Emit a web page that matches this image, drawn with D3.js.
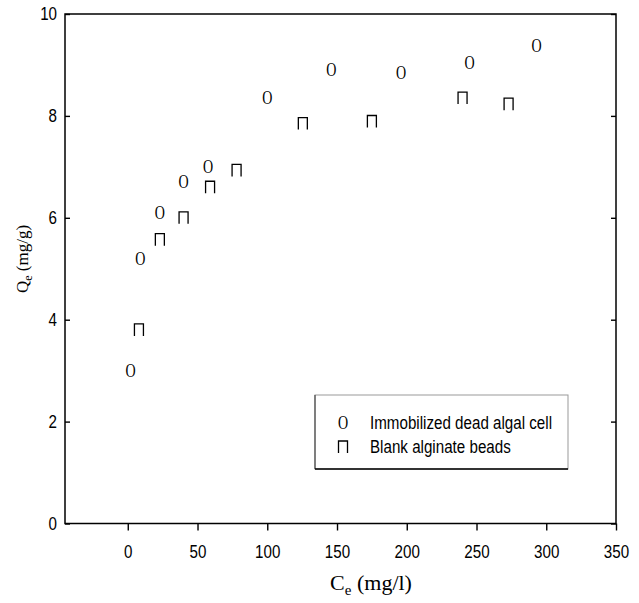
<!DOCTYPE html>
<html>
<head>
<meta charset="utf-8">
<script src="https://cdn.jsdelivr.net/npm/d3@7"></script>
<style>
  body { margin: 0; background: #fff; }
  .tick text { font-family: Arial, "Liberation Sans", sans-serif; font-size: 18.5px; fill: #000; }
</style>
</head>
<body>
<div id="chart"></div>
<script>
// immobilized dead algal cell
const cellCe = [2, 9, 23, 40, 57.5, 100, 146, 196, 245, 293];
const cellQe = [3.0, 5.2, 6.1, 6.7, 7.0, 8.35, 8.9, 8.84, 9.05, 9.38];
// blank alginate beads
const beadCe = [8, 23, 40, 59, 78, 125.5, 175, 240, 273];
const beadQe = [3.8, 5.57, 6.0, 6.6, 6.93, 7.85, 7.89, 8.35, 8.23];

const xTicks = [0, 50, 100, 150, 200, 250, 300, 350];
const yTicks = [0, 2, 4, 6, 8, 10];
const seriesNames = ["Immobilized dead algal cell", "Blank alginate beads"];

const W = 639, H = 603;
const margin = { top: 14, right: 23, bottom: 79.5, left: 65 };
const width = W - margin.left - margin.right;
const height = H - margin.top - margin.bottom;
const narrow = 0.82; // squeeze Arial to look like the narrow face

const svg = d3.select("#chart").append("svg")
  .attr("width", W)
  .attr("height", H);

const g = svg.append("g")
  .attr("transform", `translate(${margin.left},${margin.top})`);

const x = d3.scaleLinear().domain([-45, 350]).range([0, width]);
const y = d3.scaleLinear().domain([0, 10]).range([height, 0]);

// bottom axis, ticks pointing out
g.append("g")
  .attr("transform", `translate(0,${height})`)
  .call(d3.axisBottom(x).tickValues(xTicks).tickSizeInner(7).tickSizeOuter(0).tickPadding(14))
  .call(a => a.select(".domain").remove())
  .call(a => a.selectAll("line").attr("stroke", "#000").attr("stroke-width", 1.4))
  .call(a => a.selectAll("text").attr("transform", `scale(${narrow},1)`));

// left axis, ticks pointing in
g.append("g")
  .call(d3.axisLeft(y).tickValues(yTicks).tickSizeInner(-5).tickSizeOuter(0).tickPadding(8))
  .call(a => a.select(".domain").remove())
  .call(a => a.selectAll("line").attr("stroke", "#000").attr("stroke-width", 1.4))
  .call(a => a.selectAll("text").attr("x", -8 / narrow).attr("transform", `scale(${narrow},1)`));

// right axis, ticks only
g.append("g")
  .attr("transform", `translate(${width},0)`)
  .call(d3.axisLeft(y).tickValues(yTicks).tickSizeInner(5).tickSizeOuter(0).tickFormat(""))
  .call(a => a.select(".domain").remove())
  .call(a => a.selectAll("line").attr("stroke", "#000").attr("stroke-width", 1.4));

// frame
g.append("rect")
  .attr("x", 0).attr("y", 0)
  .attr("width", width).attr("height", height)
  .attr("fill", "none")
  .attr("stroke", "#000")
  .attr("stroke-width", 1.5);

// markers
const cellData = cellCe.map((c, i) => ({ ce: c, qe: cellQe[i] }));
const beadData = beadCe.map((c, i) => ({ ce: c, qe: beadQe[i] }));

const capPath = "M-4.5,6V-6H4.5V6";

function cellMarker(sel) {
  sel.append("text")
    .text("O")
    .attr("text-anchor", "middle")
    .attr("dy", "0.34em")
    .attr("transform", "scale(0.78,1)")
    .style("font-family", "'Liberation Serif', 'Times New Roman', serif")
    .style("font-size", "18px")
    .style("fill", "#000");
}

function beadMarker(sel) {
  sel.append("path")
    .attr("d", capPath)
    .attr("fill", "none")
    .attr("stroke", "#000")
    .attr("stroke-width", 1.3);
}

g.selectAll(".cell")
  .data(cellData)
  .enter()
  .append("g")
  .attr("class", "cell")
  .attr("transform", d => `translate(${x(d.ce)},${y(d.qe)})`)
  .call(cellMarker);

g.selectAll(".bead")
  .data(beadData)
  .enter()
  .append("g")
  .attr("class", "bead")
  .attr("transform", d => `translate(${x(d.ce)},${y(d.qe)})`)
  .call(beadMarker);

// legend
const lg = svg.append("g").attr("transform", "translate(315,395)");
lg.append("rect")
  .attr("width", 253).attr("height", 74)
  .attr("fill", "#fff")
  .attr("stroke", "#999")
  .attr("stroke-width", 1);
lg.append("line").attr("x1", 0).attr("x2", 0).attr("y1", 0).attr("y2", 74)
  .attr("stroke", "#555").attr("stroke-width", 1.3);
lg.append("line").attr("x1", 0).attr("x2", 253).attr("y1", 74).attr("y2", 74)
  .attr("stroke", "#000").attr("stroke-width", 1.3);

const rows = lg.selectAll(".row")
  .data(seriesNames)
  .enter()
  .append("g")
  .attr("class", "row")
  .attr("transform", (d, i) => `translate(0,${28 + i * 24})`);

rows.each(function(d, i) {
  const r = d3.select(this);
  const m = r.append("g").attr("transform", "translate(28,0)");
  if (i === 0) m.call(cellMarker); else m.call(beadMarker);
  r.append("text")
    .text(d)
    .attr("x", 55 / narrow)
    .attr("dy", "0.35em")
    .attr("transform", `scale(${narrow},1)`)
    .style("font-family", "Arial, 'Liberation Sans', sans-serif")
    .style("font-size", "18.5px")
    .style("fill", "#000");
});

// axis titles
const xt = svg.append("text")
  .attr("x", margin.left + x(150) + 34)
  .attr("y", 590)
  .attr("text-anchor", "middle")
  .style("font-family", "'Liberation Serif', 'Times New Roman', serif")
  .style("font-size", "22px")
  .style("fill", "#000");
xt.append("tspan").text("C");
xt.append("tspan").text("e").attr("dy", 5).style("font-size", "15px");
xt.append("tspan").text(" (mg/l)").attr("dy", -5);

const yt = svg.append("text")
  .attr("transform", "translate(28,259) rotate(-90)")
  .attr("text-anchor", "middle")
  .style("font-family", "'Liberation Serif', 'Times New Roman', serif")
  .style("font-size", "17px")
  .style("fill", "#000");
yt.append("tspan").text("Q");
yt.append("tspan").text("e").attr("dy", 4).style("font-size", "12px");
yt.append("tspan").text(" (mg/g)").attr("dy", -4);
</script>
</body>
</html>
